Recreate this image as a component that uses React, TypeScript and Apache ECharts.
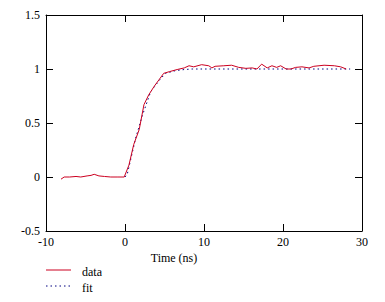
import React, { useEffect, useRef } from "react";
import * as echarts from "echarts";

const dataT = [-8.1, -7.7, -7.0, -6.2, -5.6, -4.8, -4.3, -3.9, -3.3, -2.6, -1.8, -1.0, -0.1, 0.5, 1.1, 1.8, 2.4, 3.0, 3.7, 4.3, 4.9, 5.6, 6.6, 7.5, 8.1, 8.7, 9.7, 10.6, 11.0, 11.4, 12.5, 13.5, 14.4, 15.3, 16.1, 16.7, 17.3, 18.0, 18.6, 19.2, 19.7, 20.4, 21.0, 21.6, 22.4, 23.3, 23.9, 25.2, 26.5, 27.3, 28.0];
const dataY = [-0.02, 0.0, 0.0, 0.005, 0.0, 0.01, 0.015, 0.025, 0.01, 0.005, 0.0, 0.0, 0.0, 0.11, 0.30, 0.44, 0.67, 0.76, 0.84, 0.90, 0.96, 0.975, 0.995, 1.01, 1.03, 1.02, 1.04, 1.03, 1.01, 1.025, 1.03, 1.035, 1.015, 1.006, 1.01, 1.0, 1.045, 1.01, 1.03, 1.015, 1.03, 1.0, 1.0, 1.015, 1.02, 1.01, 1.025, 1.035, 1.03, 1.02, 1.0];

const fitT = [0, 0.3, 1.35, 2.2, 3.25, 4.5, 5.15, 6.4, 7.5, 8.5, 28.5];
const fitY = [0, 0.03, 0.36, 0.57, 0.79, 0.91, 0.96, 0.985, 0.995, 1.0, 1.0];

const xTicks = { min: -10, max: 30, interval: 10 };
const yTicks = { min: -0.5, max: 1.5, interval: 0.5 };

const xTitle = "Time (ns)";
const legendNames = ["data", "fit"];

const RED = "#cc0020";
const BLUE = "#000080";
const FONT = "serif";

export default function App() {
  const ref = useRef<HTMLDivElement>(null);
  useEffect(() => {
    if (!ref.current) return;
    const chart = echarts.init(ref.current, undefined, { renderer: "svg" });
    const axisCommon = {
      axisLine: { show: true, onZero: false, lineStyle: { color: "#000", width: 1 } },
      axisTick: { show: true, inside: true, length: 7, lineStyle: { color: "#000" } },
      splitLine: { show: false },
    };
    const labelStyle = { color: "#000", fontFamily: FONT, fontSize: 12 };
    const txt = { fill: "#000", fontFamily: FONT, fontSize: 12 };
    chart.setOption({
      animation: false,
      backgroundColor: "#fff",
      textStyle: { fontFamily: FONT },
      grid: { left: 46, right: 23, top: 15, bottom: 71, containLabel: false },
      xAxis: [
        { type: "value", position: "bottom", ...xTicks, ...axisCommon, axisLabel: { ...labelStyle, margin: 5 } },
        { type: "value", position: "top", ...xTicks, ...axisCommon, axisLabel: { show: false } },
      ],
      yAxis: [
        { type: "value", position: "left", ...yTicks, ...axisCommon, axisLabel: { ...labelStyle, margin: 6 } },
        { type: "value", position: "right", ...yTicks, ...axisCommon, axisLabel: { show: false } },
      ],
      series: [
        {
          name: legendNames[1],
          type: "line",
          data: fitT.map((t, i) => [t, fitY[i]]),
          showSymbol: false,
          symbol: "none",
          lineStyle: { color: BLUE, width: 1, type: [1.5, 3] },
        },
        {
          name: legendNames[0],
          type: "line",
          data: dataT.map((t, i) => [t, dataY[i]]),
          showSymbol: false,
          symbol: "none",
          lineStyle: { color: RED, width: 1 },
        },
      ],
      graphic: [
        { type: "text", x: 174, y: 258, style: { ...txt, text: xTitle, align: "center", verticalAlign: "middle" } },
        { type: "line", shape: { x1: 46, y1: 270, x2: 71, y2: 270 }, style: { stroke: RED, lineWidth: 1 } },
        { type: "text", x: 82, y: 272, style: { ...txt, text: legendNames[0], verticalAlign: "middle" } },
        { type: "line", shape: { x1: 46, y1: 286, x2: 71, y2: 286 }, style: { stroke: BLUE, lineWidth: 1, lineDash: [1.5, 3] } },
        { type: "text", x: 82, y: 288, style: { ...txt, text: legendNames[1], verticalAlign: "middle" } },
      ],
    });
    return () => chart.dispose();
  }, []);
  return <div ref={ref} style={{ position: "absolute", left: 0, top: 0, width: 385, height: 302 }} />;
}
